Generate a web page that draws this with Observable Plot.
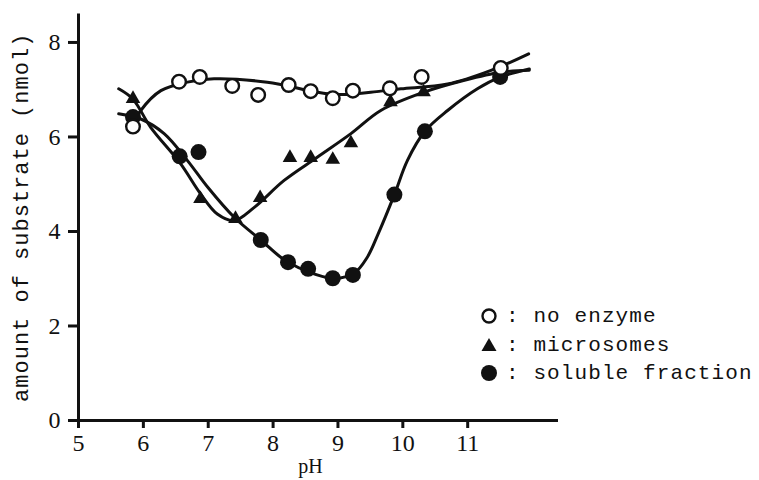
<!DOCTYPE html>
<html>
<head>
<meta charset="utf-8">
<script src="https://cdn.jsdelivr.net/npm/d3@7"></script>
<script src="https://cdn.jsdelivr.net/npm/@observablehq/plot@0.6"></script>
<style>
  body { margin: 0; background: #fff; }
  #wrap { position: relative; width: 759px; height: 480px; }
  #legend { position: absolute; left: 480px; top: 303px; font-family: "Liberation Mono", monospace; font-size: 21px; letter-spacing: 1.1px; color: #111; line-height: 28.5px; white-space: pre; }
  #legend svg { vertical-align: middle; margin-right: 8px; }
  svg text { fill: #111; }
</style>
</head>
<body>
<div id="wrap"><div id="legend"></div></div>
<script>
// measured points
const phNoEnzyme  = [5.84, 6.55, 6.87, 7.37, 7.77, 8.24, 8.58, 8.92, 9.23, 9.80, 10.29, 11.51];
const amtNoEnzyme = [6.22, 7.17, 7.27, 7.08, 6.89, 7.10, 6.97, 6.82, 6.98, 7.03, 7.27, 7.46];
const phMicro  = [5.84, 6.88, 7.42, 7.80, 8.26, 8.58, 8.92, 9.20, 9.81, 10.32, 11.51];
const amtMicro = [6.81, 4.69, 4.27, 4.71, 5.56, 5.56, 5.52, 5.87, 6.74, 6.95, 7.34];
const phSoluble  = [5.84, 6.56, 6.85, 7.81, 8.23, 8.54, 8.92, 9.23, 9.87, 10.34, 11.50];
const amtSoluble = [6.42, 5.59, 5.68, 3.82, 3.35, 3.21, 3.01, 3.08, 4.78, 6.12, 7.27];

// hand-drawn fitted curves
const curvePhNoEnzyme  = [5.84, 5.96, 6.27, 6.68, 7.09, 7.91, 8.94, 9.66, 9.97, 10.69, 11.36, 11.94];
const curveAmtNoEnzyme = [6.25, 6.56, 6.98, 7.16, 7.23, 7.16, 6.90, 6.97, 7.02, 7.12, 7.41, 7.76];
const curvePhMicro  = [5.62, 5.84, 6.11, 6.57, 6.88, 7.14, 7.40, 7.71, 8.17, 8.68, 9.20, 9.66, 10.33, 10.95, 11.51, 11.95];
const curveAmtMicro = [7.02, 6.80, 6.21, 5.44, 4.80, 4.37, 4.23, 4.51, 5.08, 5.57, 6.07, 6.56, 6.95, 7.20, 7.37, 7.41];
const curvePhSoluble  = [5.62, 5.96, 6.32, 6.68, 6.99, 7.40, 7.81, 8.23, 8.92, 9.25, 9.45, 9.62, 9.87, 10.07, 10.34, 10.69, 11.15, 11.51, 11.95];
const curveAmtSoluble = [6.49, 6.38, 6.07, 5.50, 4.94, 4.30, 3.82, 3.35, 3.01, 3.12, 3.45, 3.95, 4.78, 5.50, 6.12, 6.56, 7.02, 7.27, 7.44];

const xTicks = [5, 6, 7, 8, 9, 10, 11];
const yTicks = [0, 2, 4, 6, 8];
const xDomain = [5, 12.4];
const yDomain = [0, 8.6];
const yLabel = "amount of substrate (nmol)";
const xLabel = "pH";
const legendItems = [
  {symbol: "open", label: "no enzyme"},
  {symbol: "triangle", label: "microsomes"},
  {symbol: "filled", label: "soluble fraction"}
];

const zip = (xs, ys) => xs.map((x, i) => ({x, y: ys[i]}));
const ptsNo = zip(phNoEnzyme, amtNoEnzyme);
const ptsMi = zip(phMicro, amtMicro);
const ptsSo = zip(phSoluble, amtSoluble);
const cNo = zip(curvePhNoEnzyme, curveAmtNoEnzyme);
const cMi = zip(curvePhMicro, curveAmtMicro);
const cSo = zip(curvePhSoluble, curveAmtSoluble);

const serif = "Liberation Serif, Times New Roman, serif";
const mono = "Liberation Mono, Courier New, monospace";

const chart = Plot.plot({
  width: 759,
  height: 480,
  marginLeft: 78,
  marginRight: 201,
  marginTop: 13.6,
  marginBottom: 60,
  style: {fontFamily: serif, fontSize: "21px", background: "#fff", color: "#111"},
  x: {domain: xDomain},
  y: {domain: yDomain},
  marks: [
    Plot.axisX({ticks: xTicks, tickSize: 8, tickPadding: 5, strokeWidth: 3, label: null, fontFamily: serif}),
    Plot.axisY({ticks: yTicks, tickSize: 10, tickPadding: 8, strokeWidth: 3, label: null, fontFamily: serif}),
    Plot.ruleX([xDomain[0]], {strokeWidth: 3, stroke: "#111"}),
    Plot.ruleY([yDomain[0]], {strokeWidth: 3, stroke: "#111"}),
    Plot.line(cNo, {x: "x", y: "y", curve: "catmull-rom", stroke: "#111", strokeWidth: 3}),
    Plot.line(cMi, {x: "x", y: "y", curve: "catmull-rom", stroke: "#111", strokeWidth: 3}),
    Plot.line(cSo, {x: "x", y: "y", curve: "catmull-rom", stroke: "#111", strokeWidth: 3}),
    Plot.dot(ptsMi, {x: "x", y: "y", symbol: "triangle", r: 5.4, fill: "#111", stroke: "none"}),
    Plot.dot(ptsSo, {x: "x", y: "y", symbol: "circle", r: 8, fill: "#111", stroke: "none"}),
    Plot.dot(ptsNo, {x: "x", y: "y", symbol: "circle", r: 6.8, fill: "#fff", stroke: "#111", strokeWidth: 2.4}),
    Plot.text([yLabel], {frameAnchor: "left", text: d => d, rotate: -90, textAnchor: "middle", dx: -58, dy: 0, fontFamily: mono, fontSize: 22, fill: "#111"}),
    Plot.text([xLabel], {frameAnchor: "bottom", text: d => d, textAnchor: "middle", dx: -8, dy: 52, fontFamily: serif, fontSize: 20, fill: "#111"})
  ]
});
document.getElementById("wrap").prepend(chart);
const tickStrings = new Set([...xTicks, ...yTicks].map(String));
d3.select(chart).selectAll("text")
  .filter(function() { return tickStrings.has(this.textContent.trim()); })
  .style("font-size", "24px")
  .style("font-family", serif);
d3.select(chart).selectAll("text").filter(function() { return this.textContent === yLabel; }).style("letter-spacing", "1px");

const legend = document.getElementById("legend");
for (const item of legendItems) {
  const row = document.createElement("div");
  let sym;
  if (item.symbol === "open") sym = '<circle cx="9" cy="9" r="6.5" fill="#fff" stroke="#111" stroke-width="2.4"/>';
  else if (item.symbol === "triangle") sym = '<path d="M9,2 L16.5,15 L1.5,15 Z" fill="#111"/>';
  else sym = '<circle cx="9" cy="9" r="8" fill="#111"/>';
  row.innerHTML = '<svg width="18" height="18" viewBox="0 0 18 18">' + sym + '</svg>: ' + item.label;
  legend.appendChild(row);
}
</script>
</body>
</html>
